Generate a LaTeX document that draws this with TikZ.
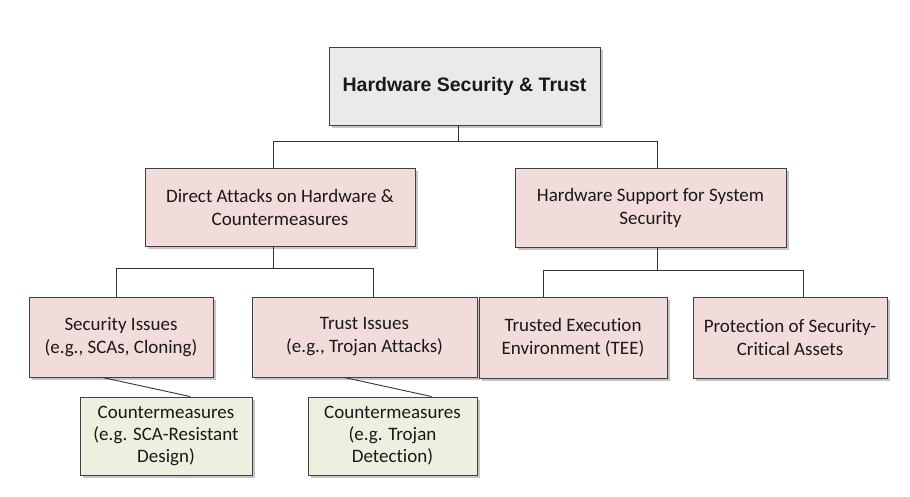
\documentclass[tikz,border=0pt]{standalone}
\usepackage{fontspec}
\setmainfont{Carlito}[Ligatures=NoCommon]
\newfontfamily\rubrik{Liberation Sans}
\usetikzlibrary{calc,shadows}

\definecolor{rosa}{HTML}{F2DCDB}
\definecolor{gron}{HTML}{EBF1DE}
\definecolor{gra}{HTML}{EAEAEA}
\definecolor{kant}{HTML}{404040}

\tikzset{
  box/.style={draw=kant, line width=0.9pt, align=center, inner sep=0pt,
    drop shadow={shadow xshift=2.5pt, shadow yshift=-2.5pt, fill=black!45},
    font=\fontsize{19}{23}\selectfont, text=black!90},
  graybox/.style={box, fill=gra, font=\rubrik\bfseries\fontsize{19.5}{23}\selectfont},
  pinkbox/.style={box, fill=rosa},
  greenbox/.style={box, fill=gron, font=\fontsize{19}{22}\selectfont},
  link/.style={draw=black!80, line width=0.9pt}
}

\begin{document}
\begin{tikzpicture}[x=1pt,y=-1pt]
  \fill[white] (0,0) rectangle (910,496);
  \useasboundingbox (0,0) rectangle (910,496);
  % Rot
  \node[graybox, minimum width=271, minimum height=78] (root) at (464.5,86)
    {Hardware Security \& Trust};
  % Nivå 1
  \node[pinkbox, minimum width=270, minimum height=78] (direct) at (280,207)
    {Direct Attacks on Hardware \&\\Countermeasures};
  \node[pinkbox, minimum width=271, minimum height=79] (support) at (650.5,207.5)
    {Hardware Support for System\\Security};
  % Nivå 2
  \node[pinkbox, minimum width=184, minimum height=80] (secissues) at (121,337)
    {Security Issues\\(e.g., SCAs, Cloning)};
  \node[pinkbox, minimum width=225, minimum height=80] (trustissues) at (364.5,337)
    {Trust Issues\\(e.g., Trojan Attacks)};
  \node[pinkbox, minimum width=188, minimum height=81] (tee) at (573,337.5)
    {Trusted Execution\\Environment (TEE)};
  \node[pinkbox, minimum width=194, minimum height=81] (assets) at (790,337.5)
    {Protection of Security-\\Critical Assets};
  % Motåtgärder
  \node[greenbox, minimum width=172, minimum height=78] (cmsca) at (166,436)
    {Countermeasures\\(e.g. SCA-Resistant\\Design)};
  \node[greenbox, minimum width=169, minimum height=78] (cmtrojan) at (392.5,436)
    {Countermeasures\\(e.g. Trojan\\Detection)};

  % Bussar
  \coordinate (bus0) at (0,141);
  \coordinate (bus1) at (0,268);
  \coordinate (bus2) at (0,270);
  \coordinate (root-s) at ($(root.south west)!0.476!(root.south east)$);
  \coordinate (direct-s) at ($(direct.south west)!0.474!(direct.south east)$);
  \coordinate (support-s) at ($(support.south west)!0.524!(support.south east)$);

  % Rot till nivå 1
  \draw[link] (root-s) -- (root-s |- bus0);
  \foreach \k/\f in {direct/0.474, support/0.524}
    \draw[link] (root-s |- bus0) -| ($(\k.north west)!\f!(\k.north east)$);
  % Nivå 1 till nivå 2
  \draw[link] (direct-s) -- (direct-s |- bus1);
  \foreach \k/\f in {secissues/0.478, trustissues/0.538}
    \draw[link] (direct-s |- bus1) -| ($(\k.north west)!\f!(\k.north east)$);
  \draw[link] (support-s) -- (support-s |- bus2);
  \foreach \k/\f in {tee/0.346, assets/0.567}
    \draw[link] (support-s |- bus2) -| ($(\k.north west)!\f!(\k.north east)$);
  % Snedlinjer
  \draw[link] ($(secissues.south west)!0.40!(secissues.south east)$)
    -- ($(cmsca.north west)!0.64!(cmsca.north east)$);
  \draw[link] ($(trustissues.south west)!0.41!(trustissues.south east)$)
    -- ($(cmtrojan.north west)!0.73!(cmtrojan.north east)$);
\end{tikzpicture}
\end{document}
